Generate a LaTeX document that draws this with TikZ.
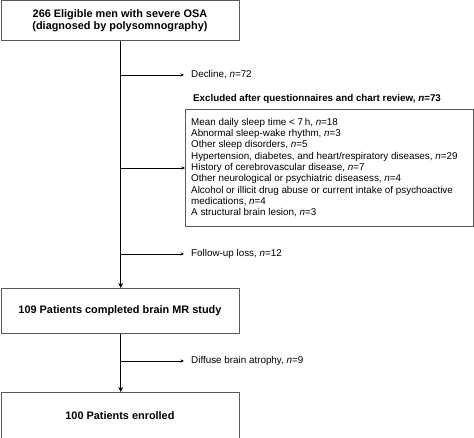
\documentclass[tikz,border=0pt]{standalone}
\usepackage{fontspec}
\setmainfont{Liberation Sans}
\usetikzlibrary{arrows.meta}
\begin{document}
\begin{tikzpicture}[x=1pt,y=1pt,
  mainbox/.style={draw=black!65,line width=0.9pt,minimum width=238pt,inner sep=0pt,align=center,font=\fontsize{10.9}{12}\selectfont\bfseries},
  side/.style={-{Stealth[length=3.5pt,width=3pt]},line width=0.5pt},
  mainarrow/.style={-{Stealth[length=5pt,width=5pt,inset=1.5pt]},line width=1.3pt},
  lbl/.style={anchor=west,inner sep=0pt,font=\fontsize{9.85}{11.3}\selectfont},
]
\useasboundingbox (0,0) rectangle (474,-438);
\node[mainbox,minimum height=40pt,anchor=north west] (b1) at (0.5,-0.5) {266 Eligible men with severe OSA\\(diagnosed by polysomnography)};
\node[mainbox,minimum height=45pt,anchor=north west] (b2) at (0.5,-288) {109 Patients completed brain MR study};
\node[mainbox,minimum height=46pt,anchor=north west] (b3) at (0.5,-392) {100 Patients enrolled};
\node[draw=black!65,line width=0.7pt,anchor=north west,minimum width=288pt,minimum height=117pt,inner sep=0pt] (ex) at (185,-109) {};
\node[lbl,anchor=north west,align=left] (exl) at (191,-118) {Mean daily sleep time < 7\,h, \textit{n}=18\\
Abnormal sleep-wake rhythm, \textit{n}=3\\
Other sleep disorders, \textit{n}=5\\
Hypertension, diabetes, and heart/respiratory diseases, \textit{n}=29\\
History of cerebrovascular disease, \textit{n}=7\\
Other neurological or psychiatric diseasess, \textit{n}=4\\
Alcohol or illicit drug abuse or current intake of psychoactive\\
medications, \textit{n}=4\\
A structural brain lesion, \textit{n}=3};
\node[lbl,font=\fontsize{9.8}{11}\selectfont\bfseries] (exh) at (193,-99) {Excluded after questionnaires and chart review, \textit{n}=73};
\node[lbl] (dec) at (191,-75) {Decline, \textit{n}=72};
\node[lbl] (fol) at (191,-254) {Follow-up loss, \textit{n}=12};
\node[lbl] (dif) at (191,-361) {Diffuse brain atrophy, \textit{n}=9};
\coordinate (vx) at (120.7,0);
\coordinate (j1) at (vx |- dec);
\coordinate (j2) at (vx |- 0,-168);
\coordinate (j3) at (vx |- fol);
\coordinate (j4) at (vx |- dif);
\draw[mainarrow] (b1.south -| vx) -- (b2.north -| vx);
\draw[mainarrow] (b2.south -| vx) -- (b3.north -| vx);
\draw[side] (j1) -- ([xshift=-7pt]dec.west);
\draw[side] (j2) -- (ex.west |- j2);
\draw[side] (j3) -- ([xshift=-7pt]fol.west);
\draw[side] (j4) -- ([xshift=-7pt]dif.west);
\end{tikzpicture}
\end{document}
